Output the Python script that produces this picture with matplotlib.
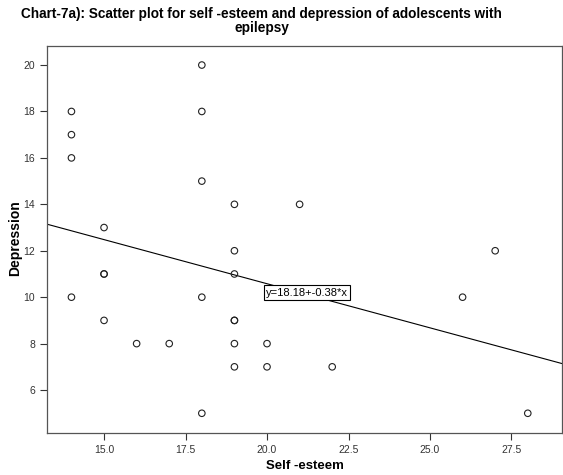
import matplotlib
matplotlib.use("Agg")
import matplotlib.pyplot as plt

plt.rcParams['font.family'] = ['Liberation Sans', 'DejaVu Sans']

self_esteem = [14, 14, 14, 14, 15, 15, 15, 15, 16, 17, 18, 18, 18, 18, 18,
               19, 19, 19, 19, 19, 19, 19, 20, 20, 21, 22, 26, 27, 28]
depression = [18, 17, 16, 10, 13, 11, 11, 9, 8, 8, 20, 18, 15, 10, 5,
              14, 12, 11, 9, 9, 8, 7, 8, 7, 14, 7, 10, 12, 5]
intercept = 18.18
slope = -0.38

fig = plt.figure(figsize=(5.63, 4.75), dpi=100)
ax = fig.add_axes([47 / 563, 42 / 475, 515 / 563, 387 / 475])

ax.scatter(self_esteem, depression, s=22, facecolors='none', edgecolors='#222222', linewidths=0.8, zorder=3)

xmin, xmax = 13.25, 29.05
ax.plot([xmin, xmax], [intercept + slope * xmin, intercept + slope * xmax], color='black', lw=0.8)
ax.text(19.97, 10.19, 'y=18.18+-0.38*x', fontsize=8, va='center', ha='left',
        bbox=dict(boxstyle='square,pad=0.22', fc='white', ec='black', lw=0.8), zorder=4)

ax.set_xlim(xmin, xmax)
ax.set_ylim(4.15, 20.82)
ax.set_xticks([15.0, 17.5, 20.0, 22.5, 25.0, 27.5])
ax.set_xticklabels(['15.0', '17.5', '20.0', '22.5', '25.0', '27.5'])
ax.set_yticks([6, 8, 10, 12, 14, 16, 18, 20])
ax.tick_params(direction='out', length=5, width=0.8, labelsize=7.5, colors='#333333')
for s in ax.spines.values():
    s.set_color('#555555')
    s.set_linewidth(0.9)

ax.set_xlabel('Self -esteem', fontsize=9.5, fontweight='bold', labelpad=4)
ax.set_ylabel('Depression', fontsize=10, fontweight='bold', va='center', ha='center')
ax.yaxis.set_label_coords(-0.062, 0.504)
fig.suptitle('Chart-7a): Scatter plot for self -esteem and depression of adolescents with\nepilepsy',
             x=0.465, fontsize=9.8, fontweight='bold', y=0.985, linespacing=0.95)

fig.savefig('out.png', dpi=100)
